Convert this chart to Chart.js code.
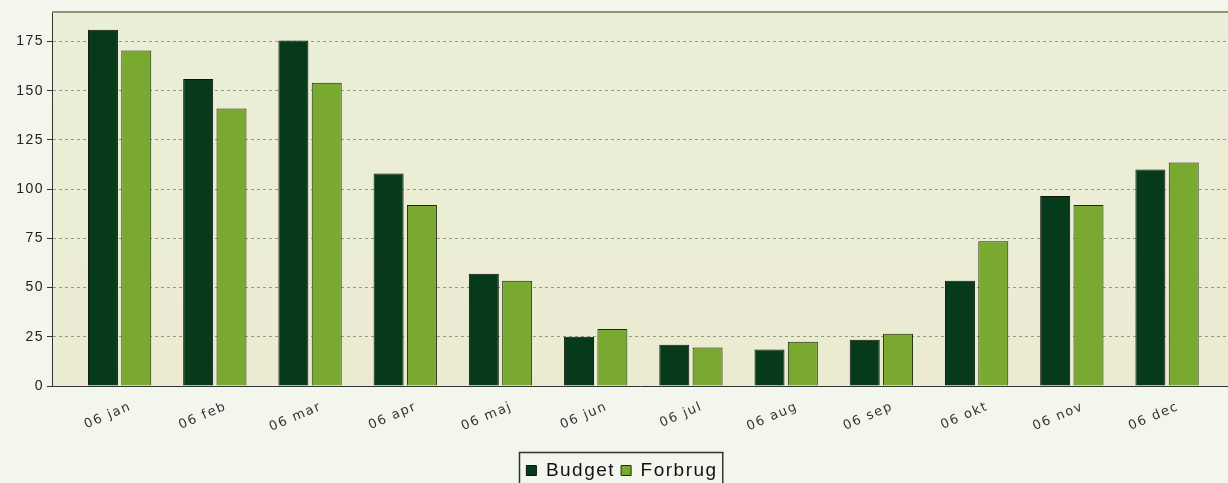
<!DOCTYPE html>
<html><head><meta charset="utf-8">
<script src="https://cdn.jsdelivr.net/npm/chart.js@4/dist/chart.umd.min.js"></script>
<style>html,body{margin:0;padding:0;background:#f3f6ec;}canvas{display:block}</style>
</head><body>
<canvas id="c" width="1228" height="483"></canvas>
<script>
const categories = ['06 jan','06 feb','06 mar','06 apr','06 maj','06 jun','06 jul','06 aug','06 sep','06 okt','06 nov','06 dec'];
const budget  = [181, 156, 175.5, 108, 57, 25, 21, 18.5, 23.5, 53.5, 96.5, 110];
const forbrug = [170.5, 141, 154, 92, 53.5, 29, 19.5, 22.5, 26.5, 73.5, 92, 113.5];
const yStep = 25;
const yMax = 190;

const bgPlugin = {
  id: 'bg',
  beforeUpdate(chart) { chart.ctx.letterSpacing = '1.5px'; },
  afterLayout(chart) {
    const lg = chart.legend;
    if (!lg) return;
    const p = lg.options.labels.padding || 0;
    const d = 461 - (lg.top + p);
    lg.top += d; lg.bottom += d;
    lg.left += 8; lg.right += 8;
  },
  beforeDraw(chart) {
    const {ctx, chartArea: a} = chart;
    ctx.letterSpacing = '1.5px';
    ctx.save();
    ctx.fillStyle = '#f3f6ec';
    ctx.fillRect(0, 0, chart.width, chart.height);
    const g = ctx.createLinearGradient(0, a.top, 0, a.bottom);
    g.addColorStop(0, '#ebefd8');
    g.addColorStop(1, '#ebebd2');
    ctx.fillStyle = g;
    ctx.fillRect(a.left, a.top, a.right - a.left, a.bottom - a.top);
    ctx.restore();
  },
  afterDraw(chart) {
    const {ctx, chartArea: a} = chart;
    ctx.save();
    ctx.strokeStyle = '#8c9478';
    ctx.lineWidth = 2;
    ctx.beginPath();
    ctx.moveTo(a.left, a.top);
    ctx.lineTo(a.right, a.top);
    ctx.stroke();
    const lg = chart.legend;
    if (lg && lg.legendHitBoxes && lg.legendHitBoxes.length) {
      let l = Infinity, r = -Infinity, t = Infinity;
      lg.legendHitBoxes.forEach(h => { l = Math.min(l, h.left); r = Math.max(r, h.left + h.width); t = Math.min(t, h.top); });
      ctx.strokeStyle = '#333';
      ctx.lineWidth = 1.5;
      ctx.strokeRect(Math.round(l) - 6.5, Math.round(t) - 8.5, (r - l) + 12, 50);
    }
    ctx.restore();
  }
};

new Chart(document.getElementById('c'), {
  type: 'bar',
  data: {
    datasets: [
      { label: 'Budget', data: budget.map((v, i) => ({x: i, y: v})), backgroundColor: '#073a1a', borderColor: '#0a140a', borderWidth: 1 },
      { label: 'Forbrug', data: forbrug.map((v, i) => ({x: i, y: v})), backgroundColor: '#79a930', borderColor: '#1a2a0a', borderWidth: 1 }
    ]
  },
  options: {
    responsive: false,
    devicePixelRatio: 1,
    animation: false,
    layout: { padding: { top: 12, left: 0, right: 0, bottom: 0 } },
    datasets: { bar: { categoryPercentage: 0.7, barPercentage: 0.9 } },
    plugins: {
      tooltip: { enabled: false },
      legend: {
        position: 'bottom',
        labels: { font: { family: 'Liberation Sans', size: 19, lineHeight: 1 }, color: '#111', boxWidth: 10, boxHeight: 10, padding: 6 }
      }
    },
    scales: {
      x: {
        type: 'linear',
        min: -0.71,
        max: 11.64,
        offset: false,
        grid: { display: false },
        border: { display: true, color: '#333', width: 1 },
        afterFit(s) {
          const lh = (s.chart.legend && s.chart.legend.height) ? s.chart.legend.height : 22;
          s.height = 483 - 386 - lh;
        },
        ticks: {
          stepSize: 1,
          includeBounds: false,
          autoSkip: false,
          minRotation: 23,
          maxRotation: 23,
          labelOffset: 11,
          padding: 5,
          color: '#333',
          font: { family: 'DejaVu Sans', size: 13 },
          callback: v => (Number.isInteger(v) && categories[v] !== undefined) ? categories[v] : ''
        }
      },
      y: {
        min: 0,
        max: yMax,
        afterFit(s) { s.width = 52; },
        grid: { color: '#9a9a80', tickColor: '#333', tickLength: 5, lineWidth: 1 },
        border: { display: true, color: '#333', width: 1, dash: [3, 3] },
        ticks: { stepSize: yStep, includeBounds: false, color: '#222', font: { family: 'Liberation Sans', size: 14 }, padding: 3 }
      }
    }
  },
  plugins: [bgPlugin]
});
</script>
</body></html>
